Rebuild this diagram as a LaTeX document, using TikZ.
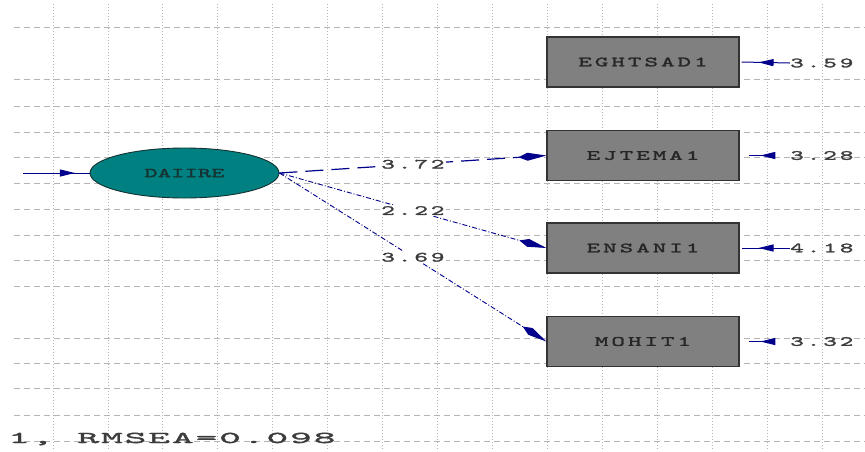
\documentclass[tikz,border=0pt]{standalone}
\usepackage{fontspec}
\usetikzlibrary{arrows.meta,decorations.markings,shapes.geometric}

% colours of the path diagram
\definecolor{gridgray}{RGB}{180,180,180}
\definecolor{pathblue}{RGB}{0,0,140}
\definecolor{boxgray}{RGB}{128,128,128}
\definecolor{latentteal}{RGB}{0,128,128}
\definecolor{inkgray}{RGB}{60,60,60}
\definecolor{boxink}{RGB}{38,38,38}
\definecolor{latentink}{RGB}{22,50,50}

% wide, tracked typewriter faces
\newfontfamily\lmwide{lmmono10-regular.otf}[FakeStretch=1.85,FakeBold=2]
\newfontfamily\lmwider{lmmono10-regular.otf}[FakeStretch=2.5,FakeBold=2]
\newcommand\wideface[2]{\fontsize{#1}{#1}\selectfont\lmwide
  \addfontfeatures{LetterSpace=#2}}
\newcommand\widerface[2]{\fontsize{#1}{#1}\selectfont\lmwider
  \addfontfeatures{LetterSpace=#2}}

\tikzset{
  vgrid/.style={gridgray, line width=0.8pt, dash pattern=on 1pt off 2pt},
  hgrid/.style={gridgray, line width=0.8pt, dash pattern=on 6pt off 4pt},
  latent/.style={ellipse, draw=latentink, line width=0.9pt, fill=latentteal,
    minimum width=189pt, minimum height=50pt, inner sep=0pt,
    text=latentink, font=\wideface{13.5}{2}},
  observed/.style={rectangle, draw=black!80, line width=1.2pt, fill=boxgray,
    minimum width=192pt, minimum height=50pt, inner sep=0pt,
    text=boxink, font=\wideface{14}{21}},
  errlabel/.style={anchor=west, inner sep=0pt, text=inkgray, font=\wideface{14}{21}},
  coef/.style={fill=white, inner sep=1.5pt, text=inkgray, font=\wideface{14}{21}},
  pathline/.style={pathblue, line width=1pt},
  longdashed/.style={pathline, line width=1.2pt, dash pattern=on 18pt off 8pt},
  dashdotted/.style={pathline, line width=0.9pt, dash pattern=on 5pt off 2pt on 1pt off 2pt},
  bighead/.style={-{Kite[length=28pt,width=8pt,inset=9pt]}},
  midhead/.style={postaction={decorate}, decoration={markings,
    mark=at position #1 with {\arrow{Triangle[length=15pt,width=7pt]}}}},
}

\begin{document}
\begin{tikzpicture}[x=1pt, y=-1pt]
\useasboundingbox[fill=white] (0,0) rectangle (865,451);

% background grid
\foreach \k in {0,...,14}
  \draw[vgrid] ({53+54.93*\k},4) -- ({53+54.93*\k},451);
\foreach \y in {27,79,106,132,157,183,209,235,260,286,338,363,388,415,441}
  \draw[hgrid] (14,\y) -- (865,\y);

% latent variable and indicators
\node[latent] (dai) at (184.5,173) {DAIIRE};
\node[observed] (b1) at (643,62) {EGHTSAD1};
\node[observed] (b2) at (643,155.5) {EJTEMA1};
\node[observed] (b3) at (643,248) {ENSANI1};
\node[observed] (b4) at (643,341.5) {MOHIT1};

% error variances
\node[errlabel] (e1) at (790,63) {3.59};
\node[errlabel] (e2) at (790,155.5) {3.28};
\node[errlabel] (e3) at (790,248) {4.18};
\node[errlabel] (e4) at (790,341.5) {3.32};

% input arrow into the latent variable
\coordinate (src) at (23,173);
\draw[pathline, midhead=0.78] (src) -- (dai.west);

% error arrows
\draw[pathline, midhead=0.65] (e1.west) -- ([xshift=2pt]b1.east);
\draw[pathline, midhead=0.52] ([xshift=-17pt]e2.west) -- ([xshift=9pt]b2.east);
\draw[pathline, midhead=0.65] (e3.west) -- ([xshift=2pt]b3.east);
\draw[pathline, midhead=0.52] ([xshift=-17pt]e4.west) -- ([xshift=9pt]b4.east);

% loadings
\draw[longdashed, bighead] (dai.east) -- (b2.west) node[coef, pos=0.5] {3.72};
\draw[dashdotted, bighead] (dai.east) -- (b3.west) node[coef, pos=0.5] {2.22};
\draw[dashdotted, bighead] (dai.east) -- (b4.west) node[coef, pos=0.5] {3.69};

% fit statistics
\node[anchor=base west, inner sep=0pt, text=inkgray, font=\widerface{16.5}{12}] (fit)
  at (8,443) {1,\hspace{24pt}RMSEA=0.098};
\end{tikzpicture}
\end{document}
